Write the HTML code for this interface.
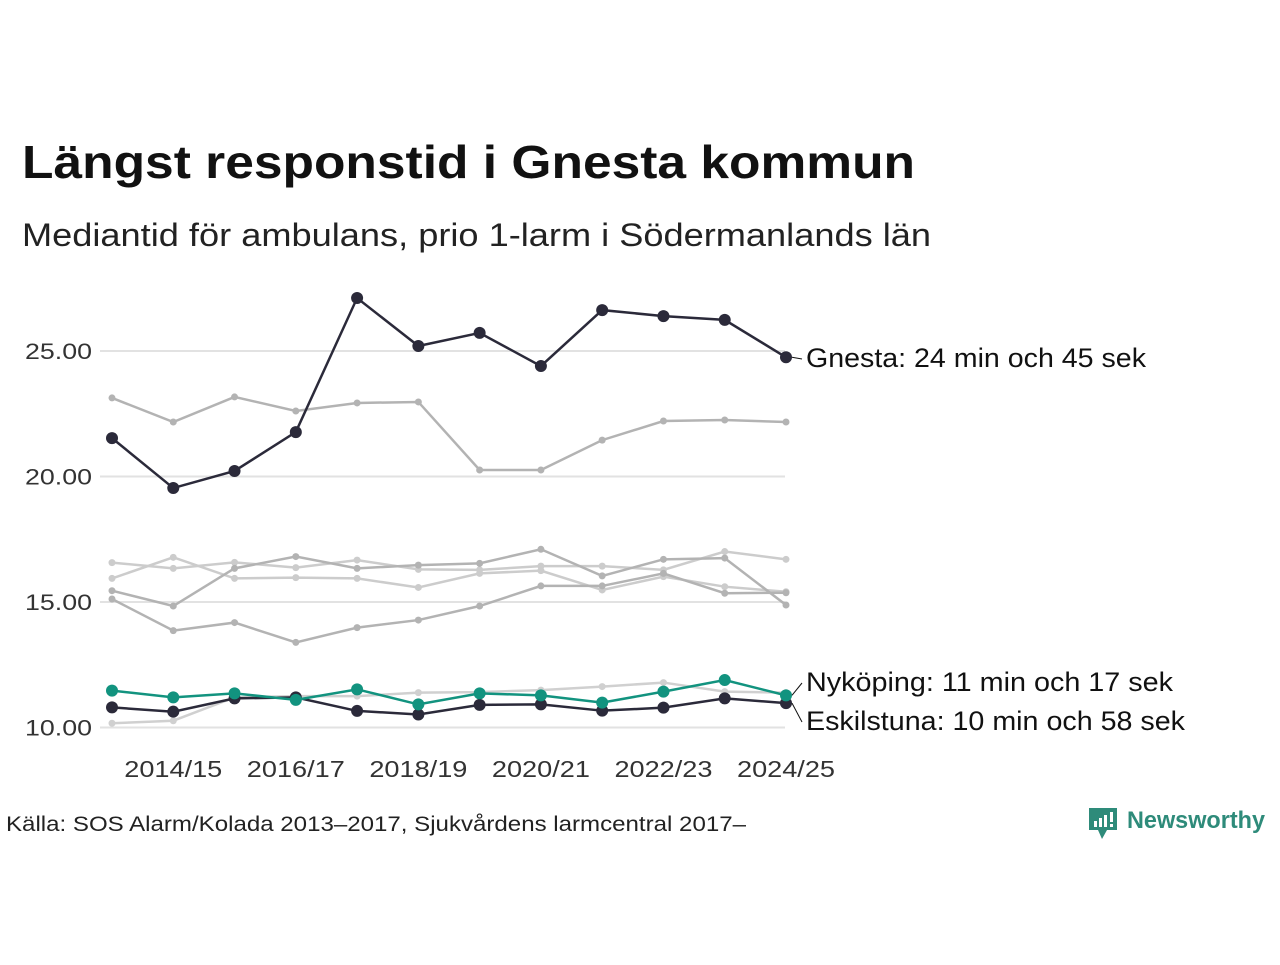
<!DOCTYPE html>
<html><head><meta charset="utf-8"><style>
body{margin:0;background:#fff;width:1280px;height:960px;overflow:hidden;font-family:"Liberation Sans",sans-serif}
</style></head><body>
<svg width="1280" height="960" xmlns="http://www.w3.org/2000/svg">
<text x="22" y="178" font-size="46" font-weight="bold" fill="#111" textLength="893" lengthAdjust="spacingAndGlyphs">Längst responstid i Gnesta kommun</text>
<text x="22" y="246" font-size="32" fill="#222" textLength="909" lengthAdjust="spacingAndGlyphs">Mediantid för ambulans, prio 1-larm i Södermanlands län</text>
<g id="grid"></g><g id="yl"></g><g id="xl"></g><g id="series"></g><g id="ann"></g>
<text x="6" y="831" font-size="21" fill="#222" textLength="740" lengthAdjust="spacingAndGlyphs">Källa: SOS Alarm/Kolada 2013–2017, Sjukvårdens larmcentral 2017–</text>
<g>
<path d="M1089 808h28v22h-10l-5 9-4-9h-9z" fill="#2e8b7a"/>
<rect x="1094" y="821" width="3" height="6" fill="#fff"/><rect x="1099" y="818" width="3" height="9" fill="#fff"/><rect x="1104" y="815" width="3" height="12" fill="#fff"/><rect x="1110" y="812" width="3" height="10" fill="#fff"/><rect x="1110" y="824" width="3" height="3" fill="#fff"/>
<text x="1127" y="828" font-size="24" font-weight="bold" fill="#2e8b7a" textLength="138" lengthAdjust="spacingAndGlyphs">Newsworthy</text>
</g>
</svg>
<script>
const years=["2013/14","2014/15","2015/16","2016/17","2017/18","2018/19","2019/20","2020/21","2021/22","2022/23","2023/24","2024/25"];
const xTickLabels=["2014/15","2016/17","2018/19","2020/21","2022/23","2024/25"];
const yTicks=[10,15,20,25];
const gnesta=[21.53,19.54,20.22,21.77,27.11,25.2,25.72,24.4,26.63,26.39,26.24,24.75];
const nykoping=[11.47,11.2,11.36,11.1,11.52,10.92,11.36,11.28,10.99,11.43,11.89,11.28];
const eskilstuna=[10.8,10.63,11.16,11.2,10.66,10.52,10.9,10.92,10.67,10.79,11.16,10.97];
const grayTop=[23.13,22.17,23.17,22.61,22.93,22.97,20.26,20.26,21.45,22.21,22.25,22.17];
const grayL1=[16.57,16.34,16.58,16.37,16.67,16.3,16.28,16.43,16.43,16.28,17.01,16.7];
const grayL2=[15.94,16.78,15.94,15.97,15.94,15.58,16.14,16.25,15.48,16.01,15.61,15.41];
const grayD1=[15.45,14.84,16.34,16.81,16.34,16.47,16.54,17.1,16.04,16.7,16.75,14.88];
const grayD2=[15.12,13.86,14.18,13.39,13.98,14.28,14.84,15.64,15.64,16.14,15.35,15.37];
const grayLow=[10.17,10.27,11.2,11.25,11.25,11.39,11.41,11.49,11.63,11.79,11.43,11.39];
const NS="http://www.w3.org/2000/svg";
const x=i=>112+i*(786-112)/11;
const y=v=>351+(25-v)*25.1;
function mk(t,a,p){const e=document.createElementNS(NS,t);for(const k in a)e.setAttribute(k,a[k]);document.getElementById(p).appendChild(e);return e;}
yTicks.forEach(t=>{
 const l=mk('line',{x1:100,x2:785,y1:y(t),y2:y(t),stroke:'#e2e2e2','stroke-width':2},'grid');
 
 
 const tx=mk('text',{x:92,y:y(t)+8,'font-size':22,'text-anchor':'end',fill:'#333',textLength:67,lengthAdjust:'spacingAndGlyphs'},'yl');tx.textContent=t.toFixed(2);
 
 
});
xTickLabels.forEach(lbl=>{
 const i=years.indexOf(lbl);
 const tx=mk('text',{x:x(i),y:777,'font-size':23,'text-anchor':'middle',fill:'#333',textLength:98,lengthAdjust:'spacingAndGlyphs'},'xl');tx.textContent=lbl;
 
 
});
function series(d,col,w,r,name){
 const g=mk('g',{},'series');
 
 
 const p=document.createElementNS(NS,'path');
 p.setAttribute('d',d.map((v,i)=>(i?'L':'M')+x(i)+' '+y(v)).join(''));
 p.setAttribute('fill','none');p.setAttribute('stroke',col);p.setAttribute('stroke-width',w);
 g.appendChild(p);
 d.forEach((v,i)=>{const c=document.createElementNS(NS,'circle');c.setAttribute('cx',x(i));c.setAttribute('cy',y(v));c.setAttribute('r',r);c.setAttribute('fill',col);
  
  
  g.appendChild(c);});
}
series(grayLow,'#d0d0d0',2.5,3.5,'gray-line-low');
series(grayL1,'#cccccc',2.5,3.5,'gray-line-1');
series(grayL2,'#cccccc',2.5,3.5,'gray-line-2');
series(grayD1,'#b3b3b3',2.5,3.5,'gray-line-3');
series(grayD2,'#b3b3b3',2.5,3.5,'gray-line-4');
series(grayTop,'#b3b3b3',2.5,3.5,'gray-line-top');
series(eskilstuna,'#2b2a3a',2.5,6,'eskilstuna-line');
series(nykoping,'#12937f',2.5,6,'nykoping-line');
series(gnesta,'#2b2a3a',2.5,6,'gnesta-line');
function ann(v,ty,txt,len,name){
 const l=mk('line',{x1:x(11)+6,y1:y(v),x2:802,y2:ty-8,stroke:'#111','stroke-width':1},'ann');
 
 
 const t=mk('text',{x:806,y:ty,'font-size':27,fill:'#111',textLength:len,lengthAdjust:'spacingAndGlyphs'},'ann');t.textContent=txt;
 
 
}
ann(gnesta[11],367,'Gnesta: 24 min och 45 sek',340,'gnesta-label');
ann(nykoping[11],691,'Nyköping: 11 min och 17 sek',367,'nykoping-label');
ann(eskilstuna[11],730,'Eskilstuna: 10 min och 58 sek',379,'eskilstuna-label');
</script>
</body></html>
